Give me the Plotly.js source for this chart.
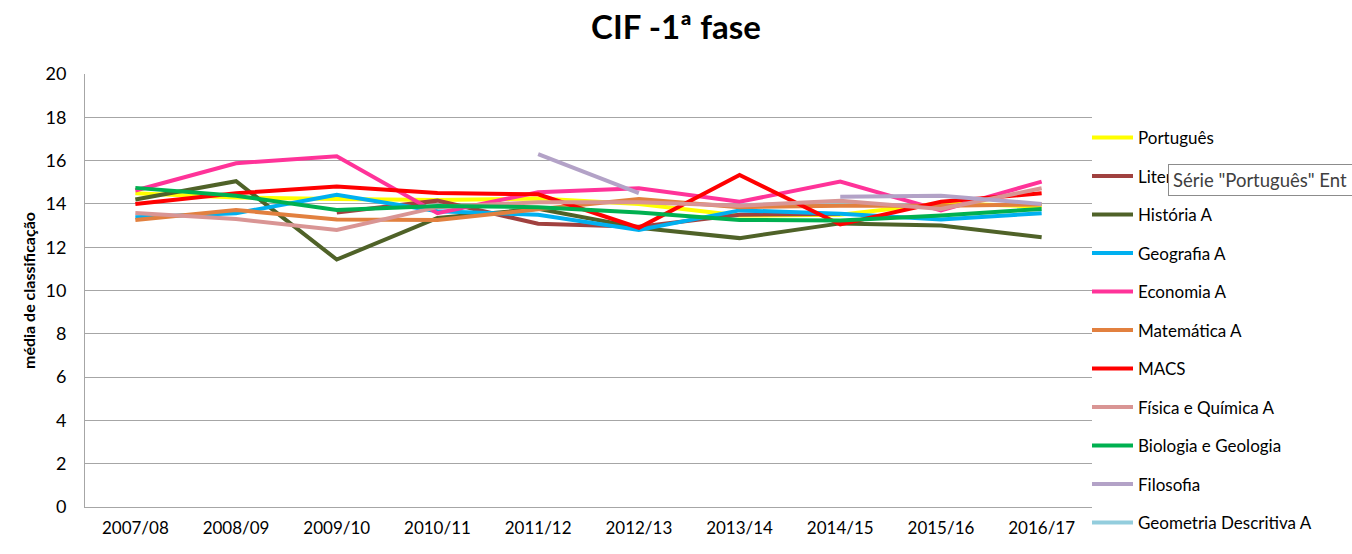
<!DOCTYPE html>
<html>
<head>
<meta charset="utf-8">
<script src="https://cdn.plot.ly/plotly-3.0.1.min.js"></script>
<style>html,body{margin:0;padding:0;background:#fff;}#chart{width:1352px;height:554px;}</style>
</head>
<body>
<div id="chart"></div>
<script>
const categories = ["2007/08","2008/09","2009/10","2010/11","2011/12","2012/13","2013/14","2014/15","2015/16","2016/17"];

const portugues   = [14.49, 14.30, 14.23, 14.18, 14.25, 14.00, 13.46, 13.50, 14.03, 13.88];
const literatura  = [null, null, 13.60, 14.15, 13.08, 12.95, 13.50, 13.53, null, null];
const historia    = [14.20, 15.05, 11.43, 13.35, 13.77, 12.90, 12.42, 13.10, 13.00, 12.46];
const geografia   = [13.38, 13.57, 14.42, 13.66, 13.50, 12.80, 13.70, 13.55, 13.28, 13.57];
const economia    = [14.62, 15.88, 16.20, 13.57, 14.54, 14.72, 14.10, 15.03, 13.70, 15.03];
const matematica  = [13.26, 13.72, 13.28, 13.26, 13.75, 14.23, 13.85, 13.92, 13.92, 13.97];
const macs        = [14.00, 14.49, 14.80, 14.50, 14.44, 12.90, 15.34, 13.05, 14.10, 14.49];
const fisica      = [13.58, 13.30, 12.80, 13.85, 14.08, 14.08, 13.92, 14.15, 13.77, 14.72];
const biologia    = [14.74, 14.38, 13.72, 13.90, 13.85, 13.60, 13.26, 13.23, 13.46, 13.77];
const filosofia   = [null, null, null, null, 16.30, 14.50, null, 14.33, 14.38, 14.00];
const geometria   = [null, null, null, null, null, null, 13.95, 14.00, 13.90, null];

const yTicks = [0, 2, 4, 6, 8, 10, 12, 14, 16, 18, 20];

const series = [
  {name: "Geometria Descritiva A", y: geometria, color: "#93CDDD", rank: 11},
  {name: "Português", y: portugues, color: "#FFFF00", rank: 1},
  {name: "Literatura Portuguesa", y: literatura, color: "#A0413F", rank: 2},
  {name: "História A", y: historia, color: "#4F6228", rank: 3},
  {name: "Geografia A", y: geografia, color: "#00B0F0", rank: 4},
  {name: "Economia A", y: economia, color: "#FF3399", rank: 5},
  {name: "Matemática A", y: matematica, color: "#E2803F", rank: 6},
  {name: "MACS", y: macs, color: "#FF0000", rank: 7},
  {name: "Física e Química A", y: fisica, color: "#D99594", rank: 8},
  {name: "Biologia e Geologia", y: biologia, color: "#00B050", rank: 9},
  {name: "Filosofia", y: filosofia, color: "#B3A2C7", rank: 10}
];

const traces = series.map(s => ({
  type: "scatter",
  mode: "lines",
  x: categories,
  y: s.y,
  name: s.name,
  legendrank: s.rank,
  legendgroup: s.name,
  line: {color: s.color, width: 4},
  connectgaps: false,
  hoverinfo: "skip"
}));

const font = "Lato, 'Open Sans', 'DejaVu Sans', sans-serif";
const W = 1352, H = 554;
const PL = 85, PW = 1007, PT = 74, PH = 433;

const layout = {
  width: W,
  height: H,
  margin: {l: PL, r: W - PL - PW, t: PT, b: H - PT - PH, pad: 0, autoexpand: false},
  paper_bgcolor: "#ffffff",
  plot_bgcolor: "#ffffff",
  font: {family: font, size: 17, color: "#000"},
  title: {
    text: "<b>CIF -1ª fase</b>",
    font: {family: font, size: 33, color: "#000"},
    xref: "container", x: 0.5, xanchor: "center",
    yref: "container", y: 1 - 27 / H, yanchor: "middle"
  },
  showlegend: true,
  legend: {
    xref: "container", yref: "container",
    x: 1087 / W, xanchor: "left",
    y: 1 - 120 / H, yanchor: "top",
    font: {family: font, size: 17, color: "#000"},
    tracegroupgap: 13.4,
    itemwidth: 41,
    maxheight: 540,
    bgcolor: "rgba(0,0,0,0)"
  },
  xaxis: {
    type: "category",
    range: [-0.5, 9.5],
    showgrid: false,
    showline: true,
    linecolor: "#A6A6A6",
    linewidth: 1,
    ticks: "",
    ticklabelstandoff: 6,
    tickfont: {family: font, size: 17, color: "#000"},
    fixedrange: true,
    automargin: false,
    zeroline: false
  },
  yaxis: {
    range: [0, 20],
    tickvals: yTicks,
    ticktext: yTicks.map(String),
    showgrid: true,
    gridcolor: "#A6A6A6",
    gridwidth: 1,
    showline: true,
    linecolor: "#A6A6A6",
    linewidth: 1,
    ticks: "",
    ticklabelstandoff: 14,
    tickfont: {family: font, size: 18, color: "#000"},
    zeroline: false,
    automargin: false,
    title: {
      text: "<b>média de classificação</b>",
      font: {family: font, size: 16, color: "#000"},
      standoff: 5
    },
    fixedrange: true
  },
  annotations: [
    {
      xref: "paper", yref: "paper",
      x: (1168 - PL) / PW, xanchor: "left",
      y: 1 - (180 - PT) / PH, yanchor: "middle",
      text: "Série \"Português\" Ent",
      showarrow: false,
      align: "left",
      width: 200,
      height: 22,
      bgcolor: "#ffffff",
      bordercolor: "#8C8C8C",
      borderwidth: 1,
      borderpad: 4,
      font: {family: font, size: 18.5, color: "#404040"}
    }
  ]
};

Plotly.newPlot("chart", traces, layout, {displayModeBar: false, staticPlot: true});
</script>
</body>
</html>
